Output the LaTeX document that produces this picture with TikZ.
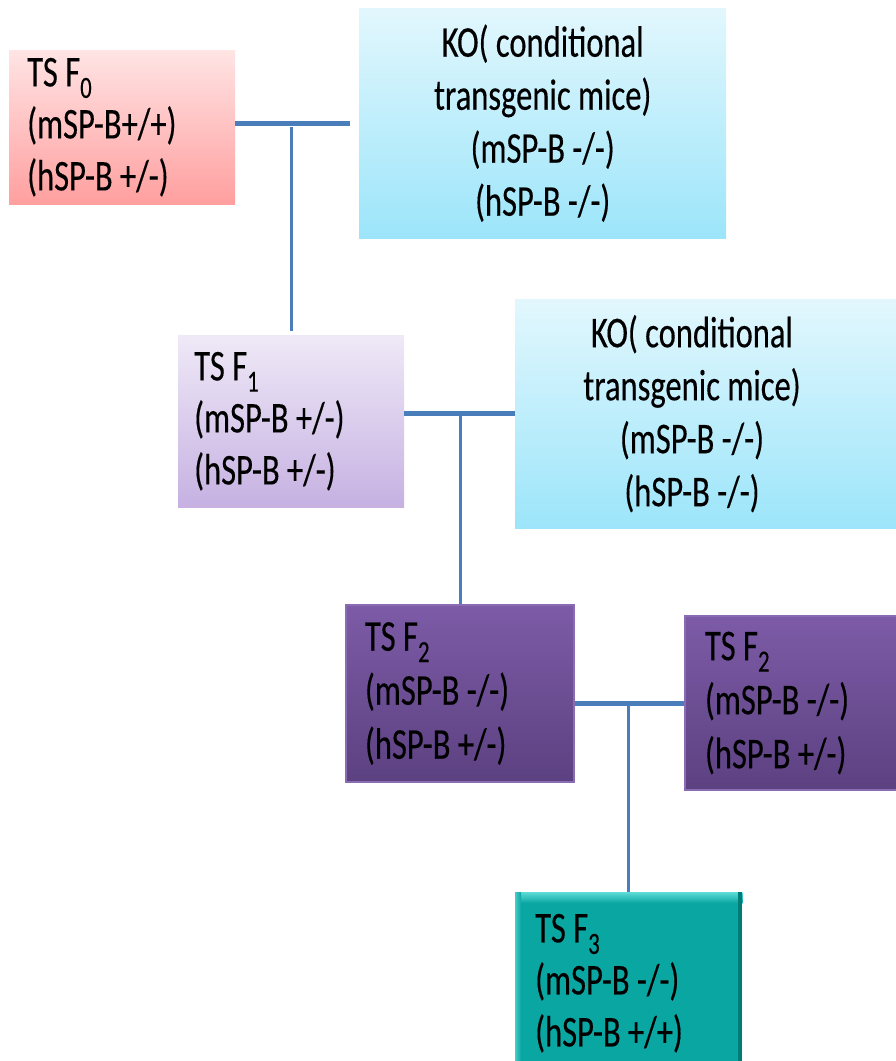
\documentclass[tikz,border=0pt]{standalone}
\usepackage{fontspec}
\setmainfont{Carlito}[FakeStretch=0.74, WordSpace=1.0, FakeBold=0.3]
\definecolor{linkblue}{HTML}{4A7EBB}
\definecolor{pinkT}{HTML}{FFE4E4}
\definecolor{pinkB}{HTML}{FF9F9F}
\definecolor{cyanT}{HTML}{E2F7FD}
\definecolor{cyanB}{HTML}{9CE5FA}
\definecolor{lavT}{HTML}{EFE9F7}
\definecolor{lavB}{HTML}{C6B1E2}
\definecolor{purT}{HTML}{7D5BA7}
\definecolor{purB}{HTML}{5C4181}
\definecolor{purE}{HTML}{8A6CB3}
\definecolor{teal}{HTML}{0AA6A2}
\definecolor{tealL}{HTML}{5EDCD7}
\definecolor{tealD}{HTML}{007C78}
\tikzset{
  txt/.style={font=\fontsize{44}{#1}\selectfont, text=black, inner ysep=0pt},
  leftbox/.style 2 args={txt=#2, rectangle, anchor=north west, align=flush left, inner xsep=#1},
  centerbox/.style={txt=53, rectangle, anchor=north west, align=flush center, inner xsep=0pt},
  hline/.style={draw=linkblue, line width=5pt},
  vline/.style={draw=linkblue, line width=3pt},
}
\begin{document}
\begin{tikzpicture}[x=1pt,y=-1pt]
\useasboundingbox (0,0) rectangle (896,1061);

% F0
\node[leftbox={18pt}{52}, text width=190pt, minimum height=154pt, top color=pinkT, bottom color=pinkB]
  (F0) at (9,50) {TS F\textsubscript{0}\\(mSP-B+/+)\\(hSP-B +/-)};
% KO1
\node[centerbox, minimum width=367pt, minimum height=230pt, top color=cyanT, bottom color=cyanB]
  (KO1) at (359,8) {KO( conditional\\transgenic mice)\\(mSP-B -/-)\\(hSP-B -/-)};
% F1
\node[leftbox={16pt}{52}, text width=194pt, minimum height=172pt, top color=lavT, bottom color=lavB]
  (F1) at (178,335) {TS F\textsubscript{1}\\(mSP-B +/-)\\(hSP-B +/-)};
% KO2 (runs past the right edge)
\node[centerbox, minimum width=400pt, minimum height=229pt, top color=cyanT, bottom color=cyanB]
  (KO2) at (515,299) {};
\node[centerbox, anchor=center] (KO2t) at (KO2.center -| 692,0)
  {KO( conditional\\transgenic mice)\\(mSP-B -/-)\\(hSP-B -/-)};
% F2a
\node[leftbox={19pt}{54}, text width=190pt, minimum height=177pt, top color=purT, bottom color=purB, draw=purE, line width=2pt]
  (F2a) at (345,604) {TS F\textsubscript{2}\\(mSP-B -/-)\\(hSP-B +/-)};
% F2b
\node[leftbox={20pt}{54}, text width=200pt, minimum height=174pt, top color=purT, bottom color=purB, draw=purE, line width=2pt]
  (F2b) at (684,615) {TS F\textsubscript{2}\\(mSP-B -/-)\\(hSP-B +/-)};
% F3 with bevel
\node[leftbox={20pt}{52}, text width=187pt, minimum height=182pt, fill=teal]
  (F3) at (515,892) {};
\shade[top color=tealL, bottom color=teal] (F3.north west) rectangle ([yshift=-11pt]F3.north east);
\fill[tealD] ([xshift=-4pt]F3.north east) rectangle (F3.south east);
\shade[left color=tealL!70!teal, right color=teal] (F3.north west) rectangle ([xshift=6pt]F3.south west);
\node[leftbox={20pt}{52}, text width=187pt, minimum height=182pt] (F3t) at (515,892)
  {TS F\textsubscript{3}\\(mSP-B -/-)\\(hSP-B +/+)};

% connectors
\coordinate (j0) at (F1.north |- KO1.west);
\draw[hline, shorten >=9pt] (KO1.west -| F0.east) -- (KO1.west);
\draw[vline, shorten <=4pt, shorten >=4pt] (j0) -- (F1.north);
\coordinate (j1) at (F2a.north |- KO2.west);
\draw[hline] (KO2.west -| F1.east) -- (KO2.west);
\draw[vline] (j1) -- (F2a.north);
\coordinate (j2) at (F3.north |- F2b.west);
\draw[hline] (F2b.west -| F2a.east) -- (F2b.west);
\draw[vline] (j2) -- (F3.north);
\end{tikzpicture}
\end{document}
